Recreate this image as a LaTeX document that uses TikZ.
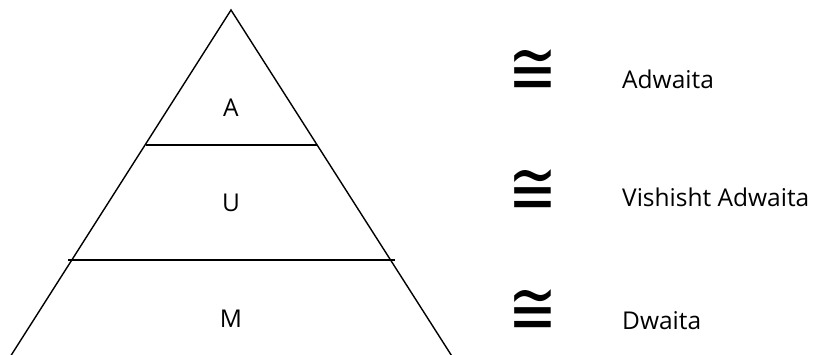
\documentclass[tikz,border=0pt]{standalone}
\usepackage{fontspec}
\setmainfont{Open Sans}
\newfontfamily\symf{DejaVu Sans}
\usepackage{graphicx}
\newcommand{\congsym}{\fontsize{54}{54}\symf\scalebox{1.08}[1.4]{≅}}
\begin{document}
\begin{tikzpicture}[x=1pt,y=-1pt,
  edge/.style={line width=1.4pt, black},
  lbl/.style={font=\fontsize{24.5}{24.5}\selectfont, inner sep=0pt, anchor=base},
  rtxt/.style={font=\fontsize{24.5}{24.5}\selectfont, inner sep=0pt, anchor=base west},
  cong/.style={inner sep=0pt, anchor=center}]
\useasboundingbox (0,0) rectangle (815,355);
\coordinate (apex) at (231,10);
\coordinate (bl) at (11,355.5);
\coordinate (br) at (451.5,355.5);
\draw[edge] (bl) -- (apex) -- (br);
\coordinate (l1a) at (146,145);
\coordinate (l1b) at (317,145);
\coordinate (l2a) at (68,260);
\coordinate (l2b) at (395,260);
\draw[edge] (l1a) -- (l1b);
\draw[edge] (l2a) -- (l2b);
\node[lbl] (A) at (231,117) {A};
\node[lbl] (U) at (231,212) {U};
\node[lbl] (M) at (231,328) {M};
\node[cong] (c1) at (533,72) {\congsym};
\node[cong] (c2) at (533,192) {\congsym};
\node[cong] (c3) at (533,312) {\congsym};
\node[rtxt] (t1) at (622,89) {Adwaita};
\node[rtxt] (t2) at (622,207) {Vishisht Adwaita};
\node[rtxt] (t3) at (622,330) {Dwaita};
\end{tikzpicture}
\end{document}
